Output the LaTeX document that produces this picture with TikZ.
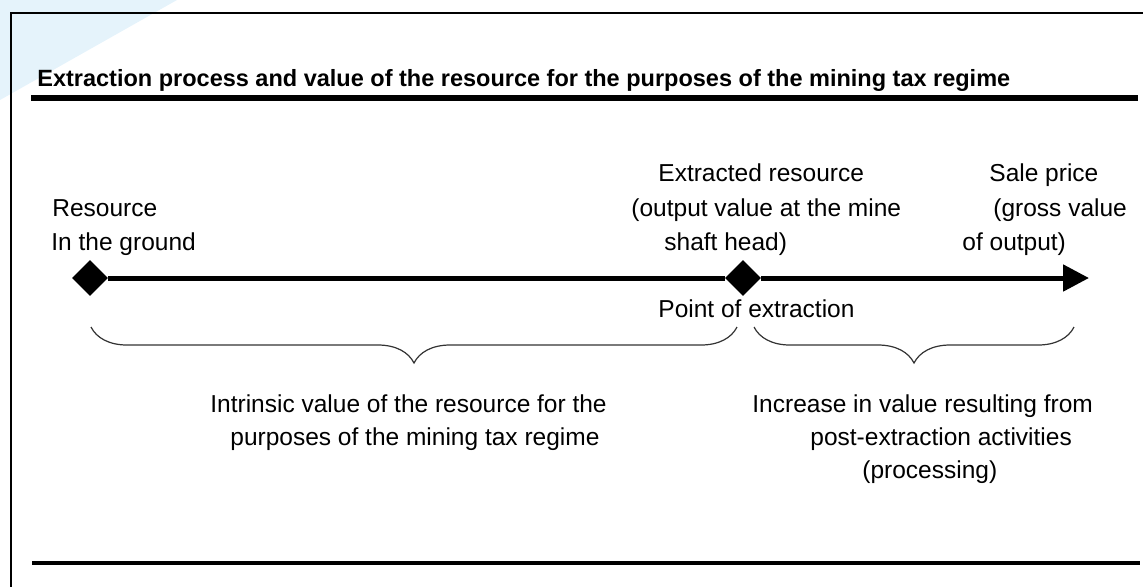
\documentclass[tikz,border=0pt]{standalone}
\usepackage{fontspec}
\setmainfont{Liberation Sans}
\usetikzlibrary{arrows.meta,decorations.pathreplacing,shapes.geometric}
\definecolor{skyfade}{RGB}{229,243,251}

\begin{document}
\begin{tikzpicture}[
    x=0.5pt, y=-0.5pt,
    txt/.style={font=\fontsize{12.25}{14}\selectfont, inner sep=0pt, anchor=base west},
    head/.style={font=\fontsize{11.75}{14}\selectfont\bfseries, inner sep=0pt, anchor=base west},
    diam/.style={diamond, fill=black, inner sep=0pt, minimum width=18pt, minimum height=18pt},
    brc/.style={decorate, decoration={brace, mirror, amplitude=18pt}, line width=0.6pt, draw=black!80},
    rule/.style={line width=3pt}
  ]
  \useasboundingbox (0,0) rectangle (1143,586);
  \clip (0,0) rectangle (1143,586);

  % corner shading and frame
  \fill[skyfade] (0,0) -- (177,0) -- (0,100) -- cycle;
  \draw[line width=1pt] (11,620) -- (11,13) -- (1160,13);

  % heading and rules
  \node[head] (title) at (37,86) {Extraction process and value of the resource for the purposes of the mining tax regime};
  \draw[rule] (31,98) -- (1138,98);
  \draw[rule, line width=2.2pt] (32,563) -- (1140,563);

  % time line
  \node[diam] (ground) at (90,278) {};
  \node[diam] (shaft) at (743,278) {};
  \coordinate (sale) at (1089,278);
  \draw[line width=2.5pt] (ground) -- (shaft);
  \draw[line width=2.5pt, -{Triangle[length=13pt,width=13pt]}] (shaft) -- (sale);

  % labels above the line
  \node[txt] (res1) at (52,216) {Resource};
  \node[txt] (res2) at (51,250) {In the ground};
  \node[txt] (ext1) at (658,181) {Extracted resource};
  \node[txt] (ext2) at (631,216) {(output value at the mine};
  \node[txt] (ext3) at (664,250) {shaft head)};
  \node[txt] (sal1) at (989,181) {Sale price};
  \node[txt] (sal2) at (993,216) {(gross value};
  \node[txt] (sal3) at (962,250) {of output)};
  \node[txt] (point) at (658,317) {Point of extraction};

  % braces
  \coordinate (b1) at (91,327);
  \coordinate (b2) at (737,327);
  \coordinate (b3) at (754,327);
  \coordinate (b4) at (1074,327);
  \draw[brc] (b1) -- (b2);
  \draw[brc] (b3) -- (b4);

  % labels under the braces
  \node[txt] (intr1) at (210,412) {Intrinsic value of the resource for the};
  \node[txt] (intr2) at (230,445) {purposes of the mining tax regime};
  \node[txt] (incr1) at (752,412) {Increase in value resulting from};
  \node[txt] (incr2) at (810,445) {post-extraction activities};
  \node[txt] (incr3) at (862,478) {(processing)};
\end{tikzpicture}
\end{document}
